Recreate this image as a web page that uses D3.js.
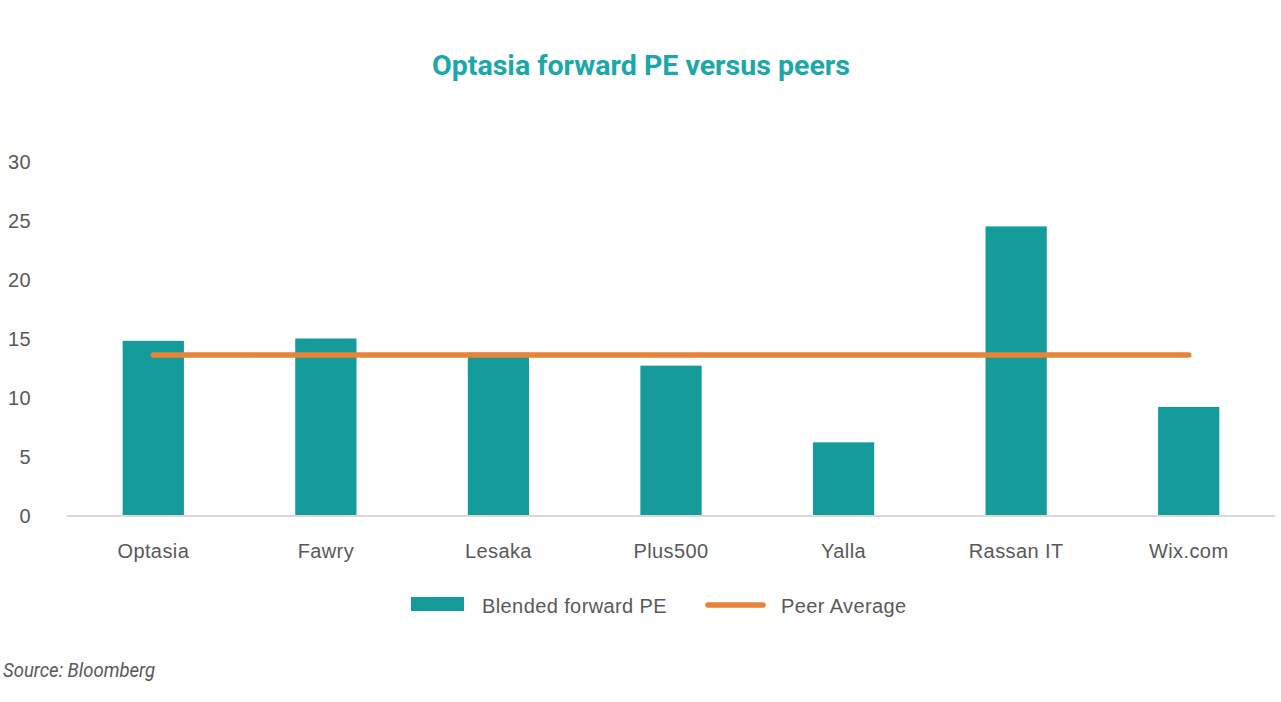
<!DOCTYPE html>
<html>
<head>
<meta charset="utf-8">
<script src="https://cdn.jsdelivr.net/npm/d3@7"></script>
<style>
  body { margin: 0; background: #fff; }
  svg { display: block; }
  .lbl { font-family: 'Liberation Sans'; font-size: 20px; letter-spacing: 0.4px; fill: #595959; }
</style>
</head>
<body>
<svg id="chart" width="1281" height="702"></svg>
<script>
  let companies = ['Optasia', 'Fawry', 'Lesaka', 'Plus500', 'Yalla', 'Rassan IT', 'Wix.com']
  let forwardPE = [14.8, 15.0, 13.8, 12.7, 6.2, 24.5, 9.2]
  let peerAverage = [13.6, 13.6, 13.6, 13.6, 13.6, 13.6, 13.6]
  let yTicks = [0, 5, 10, 15, 20, 25, 30]

  let teal = '#159b9a'
  let orange = '#e8833a'

  let svg = d3.select('#chart')

  let x = d3.scaleBand()
    .domain(companies)
    .range([67, 1275])
    .paddingInner(0.645)
    .paddingOuter(0.3225)

  let y = d3.scaleLinear()
    .domain([0, 30])
    .range([515.5, 161.5])

  // title
  svg.append('text')
    .attr('x', 641).attr('y', 75)
    .attr('text-anchor', 'middle')
    .attr('font-family', 'Roboto')
    .attr('font-weight', 'bold')
    .attr('font-size', 28)
    .attr('fill', '#1aa8a8')
    .attr('textLength', 418)
    .attr('lengthAdjust', 'spacingAndGlyphs')
    .text('Optasia forward PE versus peers')

  // y axis labels
  svg.append('g')
    .selectAll('text')
    .data(yTicks)
    .enter()
    .append('text')
    .attr('class', 'lbl')
    .attr('x', 31)
    .attr('y', d => y(d))
    .attr('dy', '0.35em')
    .attr('text-anchor', 'end')
    .text(d => d)

  // bars
  svg.append('g')
    .selectAll('rect')
    .data(companies)
    .enter()
    .append('rect')
    .attr('x', d => x(d))
    .attr('width', x.bandwidth())
    .attr('y', (d, i) => y(forwardPE[i]))
    .attr('height', (d, i) => y(0) - y(forwardPE[i]))
    .attr('fill', teal)

  // baseline
  svg.append('line')
    .attr('x1', 67).attr('x2', 1275)
    .attr('y1', y(0) + 0.5).attr('y2', y(0) + 0.5)
    .attr('stroke', '#d9d9d9')
    .attr('stroke-width', 2)

  // category labels
  let xAxis = d3.axisBottom(x).tickSize(0).tickPadding(0)
  let gx = svg.append('g')
    .attr('transform', 'translate(0,' + (y(0) + 26) + ')')
    .call(xAxis)
  gx.select('.domain').remove()
  gx.selectAll('text')
    .attr('class', 'lbl')
    .attr('font-family', null)
    .attr('font-size', null)
    .attr('fill', null)
    .attr('dy', '0.35em')
    .attr('y', 9)
  gx.attr('font-family', null).attr('font-size', null)

  // peer average line
  let line = d3.line()
    .x((d, i) => x(companies[i]) + x.bandwidth() / 2)
    .y(d => y(d))

  svg.append('path')
    .datum(peerAverage)
    .attr('d', line)
    .attr('fill', 'none')
    .attr('stroke', orange)
    .attr('stroke-width', 5.5)
    .attr('stroke-linecap', 'round')

  // legend
  let legend = svg.append('g')
  legend.append('rect')
    .attr('x', 411).attr('y', 597)
    .attr('width', 53).attr('height', 14)
    .attr('fill', teal)
  legend.append('text')
    .attr('class', 'lbl')
    .attr('x', 482).attr('y', 606)
    .attr('dy', '0.35em')
    .text('Blended forward PE')
  legend.append('line')
    .attr('x1', 708).attr('x2', 763)
    .attr('y1', 605).attr('y2', 605)
    .attr('stroke', orange)
    .attr('stroke-width', 5.5)
    .attr('stroke-linecap', 'round')
  legend.append('text')
    .attr('class', 'lbl')
    .attr('x', 781).attr('y', 606)
    .attr('dy', '0.35em')
    .text('Peer Average')

  // source
  svg.append('text')
    .attr('x', 3).attr('y', 677)
    .attr('font-family', 'Roboto')
    .attr('font-style', 'italic')
    .attr('font-size', 20)
    .attr('fill', '#595959')
    .attr('textLength', 152)
    .attr('lengthAdjust', 'spacingAndGlyphs')
    .text('Source: Bloomberg')
</script>
</body>
</html>
